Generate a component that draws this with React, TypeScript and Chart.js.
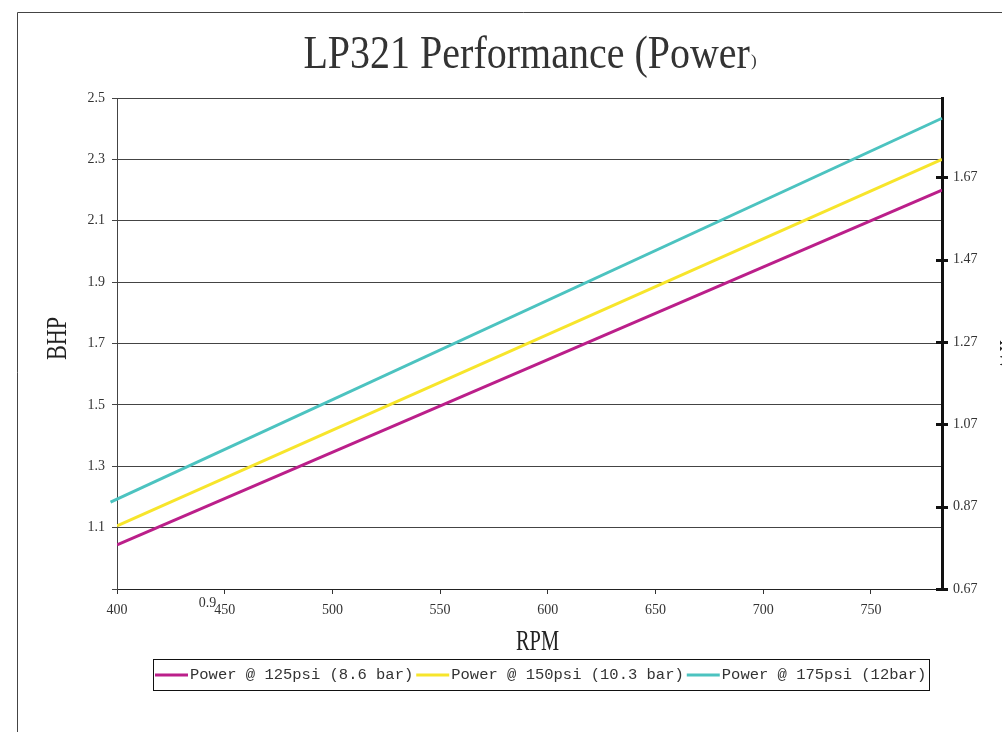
import React, { useEffect, useRef } from 'react';
import { Chart, registerables } from 'chart.js';

Chart.register(...registerables);

// ---- data ----
const rpmPoints = [400, 783];
const cyanRpmPoints = [397, 783];
const power125 = [1.044, 2.2];
const power150 = [1.106, 2.3];
const power175 = [1.183, 2.434];

const seriesLabels = ['Power @ 125psi (8.6 bar)', 'Power @ 150psi (10.3 bar)', 'Power @ 175psi (12bar)'];
const seriesColors = ['#BB1F8A', '#F7E52B', '#4CC3C0'];

const rpmTicks = [400, 450, 500, 550, 600, 650, 700, 750];
const bhpTicks = [0.9, 1.1, 1.3, 1.5, 1.7, 1.9, 2.1, 2.3, 2.5];
const kwTicks = [0.67, 0.87, 1.07, 1.27, 1.47, 1.67];
const BHP_TO_KW = 0.7457;

const titleText = 'LP321 Performance (Power)';
const xTitle = 'RPM';
const yTitle = 'BHP';
const y2Title = 'kW';
const strayLabel = '0.9';

const SERIF = '"Liberation Serif", "DejaVu Serif", serif';
const MONO = '"Liberation Mono", "DejaVu Sans Mono", monospace';
const CANVAS_W = 1030;
const CANVAS_H = 732;

function drawCondensed(ctx: CanvasRenderingContext2D, text: string, x: number, y: number, angle: number, size: number, sx: number) {
  ctx.save();
  ctx.translate(x, y);
  ctx.rotate(angle);
  ctx.scale(sx, 1);
  ctx.font = `${size}px ${SERIF}`;
  ctx.textAlign = 'center';
  ctx.textBaseline = 'alphabetic';
  ctx.fillText(text, 0, 0);
  ctx.restore();
}

const overlay = {
  id: 'overlay',
  afterDraw(chart: any) {
    const { ctx, chartArea, scales } = chart;
    ctx.save();
    // outer frame (cropped)
    ctx.strokeStyle = '#444';
    ctx.lineWidth = 1;
    ctx.beginPath();
    ctx.moveTo(17.5, CANVAS_H);
    ctx.lineTo(17.5, 12.5);
    ctx.lineTo(CANVAS_W, 12.5);
    ctx.stroke();

    // title with the small closing parenthesis
    ctx.fillStyle = '#333';
    const cx = (chartArea.left + chartArea.right) / 2;
    const main = titleText.slice(0, -1);
    const tail = titleText.slice(-1);
    ctx.font = `40px ${SERIF}`;
    const wMain = ctx.measureText(main).width;
    ctx.font = `17px ${SERIF}`;
    const wTail = ctx.measureText(tail).width;
    const startX = cx - (wMain + wTail) / 2;
    ctx.save();
    ctx.translate(startX, 68);
    ctx.scale(1, 1.14);
    ctx.font = `40px ${SERIF}`;
    ctx.textAlign = 'left';
    ctx.textBaseline = 'alphabetic';
    ctx.fillText(main, 0, 0);
    ctx.restore();
    ctx.font = `17px ${SERIF}`;
    ctx.textAlign = 'left';
    ctx.textBaseline = 'alphabetic';
    ctx.fillText(tail, startX + wMain + 1, 66);

    // axis titles
    ctx.fillStyle = '#222';
    drawCondensed(ctx, yTitle, 66, (chartArea.top + chartArea.bottom) / 2 - 5, -Math.PI / 2, 30, 0.74);
    drawCondensed(ctx, xTitle, (chartArea.left + chartArea.right) / 2 + 8, 650, 0, 30, 0.68);
    drawCondensed(ctx, y2Title, 1000, (chartArea.top + chartArea.bottom) / 2 + 12, Math.PI / 2, 30, 0.7);

    // right axis crossing tick marks
    const y1 = scales.y1;
    ctx.strokeStyle = '#111';
    ctx.lineWidth = 3;
    ctx.beginPath();
    kwTicks.forEach((v) => {
      const py = Math.round(y1.getPixelForValue(v)) + 0.5;
      ctx.moveTo(chartArea.right - 6, py);
      ctx.lineTo(chartArea.right + 6, py);
    });
    ctx.stroke();

    // stray 0.9 label
    ctx.fillStyle = '#333';
    ctx.font = `14px ${SERIF}`;
    ctx.textAlign = 'center';
    ctx.textBaseline = 'middle';
    ctx.fillText(strayLabel, scales.x.getPixelForValue(442), chartArea.bottom + 14);

    // legend box
    const boxL = 153.5, boxT = 659.5, boxW = 776, boxH = 31;
    ctx.fillStyle = '#fff';
    ctx.fillRect(boxL, boxT, boxW, boxH);
    ctx.strokeStyle = '#111';
    ctx.lineWidth = 1;
    ctx.strokeRect(boxL, boxT, boxW, boxH);
    const ly = boxT + boxH / 2;
    let lx = 155;
    ctx.font = `15.5px ${MONO}`;
    ctx.textAlign = 'left';
    ctx.textBaseline = 'middle';
    seriesLabels.forEach((label, i) => {
      ctx.strokeStyle = seriesColors[i];
      ctx.lineWidth = 3;
      ctx.beginPath();
      ctx.moveTo(lx, ly);
      ctx.lineTo(lx + 33, ly);
      ctx.stroke();
      lx += 35;
      ctx.fillStyle = '#333';
      ctx.fillText(label, lx, ly);
      lx += ctx.measureText(label).width + 3;
    });
    ctx.restore();
  },
};

export default function App() {
  const ref = useRef<HTMLCanvasElement>(null);
  useEffect(() => {
    const canvas = ref.current!;
    const mk = (xs: number[], ys: number[]) => xs.map((x, i) => ({ x, y: ys[i] }));
    const chart = new Chart(canvas, {
      type: 'line',
      data: {
        datasets: [
          { label: seriesLabels[0], data: mk(rpmPoints, power125), borderColor: seriesColors[0], borderWidth: 3, pointRadius: 0, fill: false, tension: 0, yAxisID: 'y' },
          { label: seriesLabels[1], data: mk(rpmPoints, power150), borderColor: seriesColors[1], borderWidth: 3, pointRadius: 0, fill: false, tension: 0, yAxisID: 'y' },
          { label: seriesLabels[2], data: mk(cyanRpmPoints, power175), borderColor: seriesColors[2], borderWidth: 3, pointRadius: 0, fill: false, tension: 0, yAxisID: 'y', clip: false as any },
        ],
      },
      options: {
        responsive: false,
        animation: false,
        layout: { padding: { left: 37, right: 0, top: 98, bottom: 73 } },
        plugins: { legend: { display: false }, title: { display: false }, tooltip: { enabled: false } },
        scales: {
          x: {
            type: 'linear',
            min: 400,
            max: 783,
            afterBuildTicks: (s: any) => { s.ticks = rpmTicks.map((v) => ({ value: v })); },
            afterFit: (s: any) => { s.height = 70; },
            grid: { drawOnChartArea: false, drawTicks: true, tickLength: 5, color: '#333' },
            border: { display: true, color: '#222', width: 1 },
            ticks: { color: '#333', font: { family: SERIF, size: 14 }, padding: 8, maxRotation: 0, callback: (v: any) => String(v) },
          },
          y: {
            type: 'linear',
            position: 'left',
            min: bhpTicks[0],
            max: bhpTicks[bhpTicks.length - 1],
            afterBuildTicks: (s: any) => { s.ticks = bhpTicks.map((v) => ({ value: v })); },
            afterFit: (s: any) => { s.width = 80; },
            grid: { color: '#444', lineWidth: 1, drawTicks: true, tickLength: 5 },
            border: { display: true, color: '#444', width: 1 },
            ticks: { color: '#333', font: { family: SERIF, size: 14 }, padding: 7, callback: (v: any) => (Math.abs(v - 0.9) < 1e-6 ? '' : Number(v).toFixed(1)) },
          },
          y1: {
            type: 'linear',
            position: 'right',
            min: kwTicks[0],
            max: kwTicks[0] + (bhpTicks[bhpTicks.length - 1] - bhpTicks[0]) * BHP_TO_KW,
            afterBuildTicks: (s: any) => { s.ticks = kwTicks.map((v) => ({ value: v })); },
            afterFit: (s: any) => { s.width = CANVAS_W - 942; },
            grid: { display: false, drawTicks: false, drawOnChartArea: false },
            border: { display: true, color: '#111', width: 3 },
            ticks: { color: '#333', font: { family: SERIF, size: 14 }, padding: 11, callback: (v: any) => Number(v).toFixed(2) },
          },
        },
      },
      plugins: [overlay],
    } as any);
    return () => chart.destroy();
  }, []);
  return (
    <div style={{ position: 'fixed', left: 0, top: 0, width: 1002, height: 732, overflow: 'hidden', background: '#fff' }}>
      <canvas ref={ref} width={CANVAS_W} height={CANVAS_H} style={{ display: 'block', width: CANVAS_W, height: CANVAS_H }} />
    </div>
  );
}
